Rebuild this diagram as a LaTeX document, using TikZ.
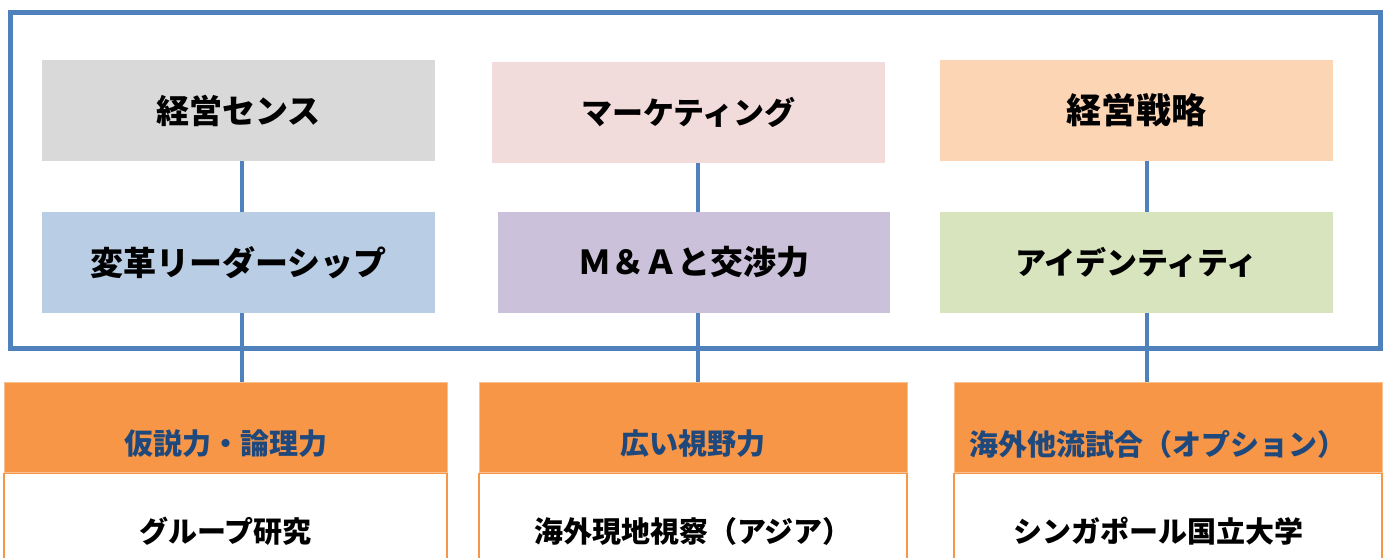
\documentclass[tikz,border=0pt]{standalone}
\usepackage{fontspec}
\newfontfamily\jp{Noto Sans CJK JP}
\definecolor{cgray}{HTML}{D9D9D9}
\definecolor{cpink}{HTML}{F2DCDB}
\definecolor{cpeach}{HTML}{FCD5B5}
\definecolor{cblue}{HTML}{B9CDE5}
\definecolor{clav}{HTML}{CCC1DA}
\definecolor{cgreen}{HTML}{D7E4BD}
\definecolor{corange}{HTML}{F79646}
\definecolor{corangel}{HTML}{FAC090}
\definecolor{cline}{HTML}{4F81BD}
\definecolor{cnavy}{HTML}{1F497D}
\begin{document}
\begin{tikzpicture}[x=1pt,y=1pt,
  topbox/.style={minimum width=393pt, minimum height=101pt, inner sep=0pt, draw=none,
    font=\jp\bfseries\fontsize{33}{38}\selectfont, text=black},
  hdrbox/.style={minimum width=428pt, minimum height=90pt, inner sep=0pt, fill=corange, draw=corangel, line width=1pt},
  hdrtext/.style={font=\jp\bfseries\fontsize{29}{34}\selectfont, text=cnavy, inner sep=0pt},
  whitebox/.style={minimum width=428pt, minimum height=120pt, inner sep=0pt, fill=white, draw=corange, line width=1.2pt, anchor=north},
  bottext/.style={font=\jp\bfseries\fontsize{29}{34}\selectfont, text=black, inner sep=0pt},
  conn/.style={draw=cline, line width=3.5pt},
  frame/.style={draw=cline, line width=5pt}]
\useasboundingbox (0,0) rectangle (1387,557);
\clip (0,0) rectangle (1387,557);
% outer frame
\draw[frame] (10,544.5) rectangle (1380,208);
% top row
\node[topbox, fill=cgray] (b1) at (238.5,446.5) {経営センス};
\node[topbox, fill=cpink, font=\jp\bfseries\fontsize{31}{36}\selectfont] (b2) at (688.5,444.5) {マーケティング};
\node[topbox, fill=cpeach, font=\jp\bfseries\fontsize{35}{40}\selectfont] (b3) at (1136.5,446.5) {経営戦略};
% second row
\node[topbox, fill=cblue] (b4) at (238.5,294.5) {変革リーダーシップ};
\node[topbox, fill=clav, minimum width=392pt] (b5) at (694,294.5) {Ｍ＆Ａと交渉力};
\node[topbox, fill=cgreen, font=\jp\bfseries\fontsize{31}{36}\selectfont] (b6) at (1136.5,294.5) {アイデンティティ};
% bottom row
\node[whitebox, minimum width=443pt] (w1) at (225.5,84) {};
\node[whitebox] (w2) at (693,84) {};
\node[whitebox] (w3) at (1168,84) {};
\node[hdrbox, minimum width=443pt] (h1) at (225.5,129) {};
\node[hdrbox] (h2) at (693,129) {};
\node[hdrbox] (h3) at (1168,129) {};
\node[hdrtext] (t1) at (225.5,113) {仮説力・論理力};
\node[hdrtext] (t2) at (693,113) {広い視野力};
\node[hdrtext] (t3) at (1158,113) {海外他流試合（オプション）};
\node[bottext] (u1) at (225.5,26) {グループ研究};
\node[bottext] (u2) at (693,26) {海外現地視察（アジア）};
\node[bottext] (u3) at (1158,26) {シンガポール国立大学};
% connectors
\coordinate (c1) at (242,0);
\coordinate (c2) at (698,0);
\coordinate (c3) at (1147,0);
\draw[conn] (b1.south -| c1) -- (b4.north -| c1);
\draw[conn] (b4.south -| c1) -- (h1.north -| c1);
\draw[conn] (b2.south -| c2) -- (b5.north -| c2);
\draw[conn] (b5.south -| c2) -- (h2.north -| c2);
\draw[conn] (b3.south -| c3) -- (b6.north -| c3);
\draw[conn] (b6.south -| c3) -- (h3.north -| c3);
\end{tikzpicture}
\end{document}
